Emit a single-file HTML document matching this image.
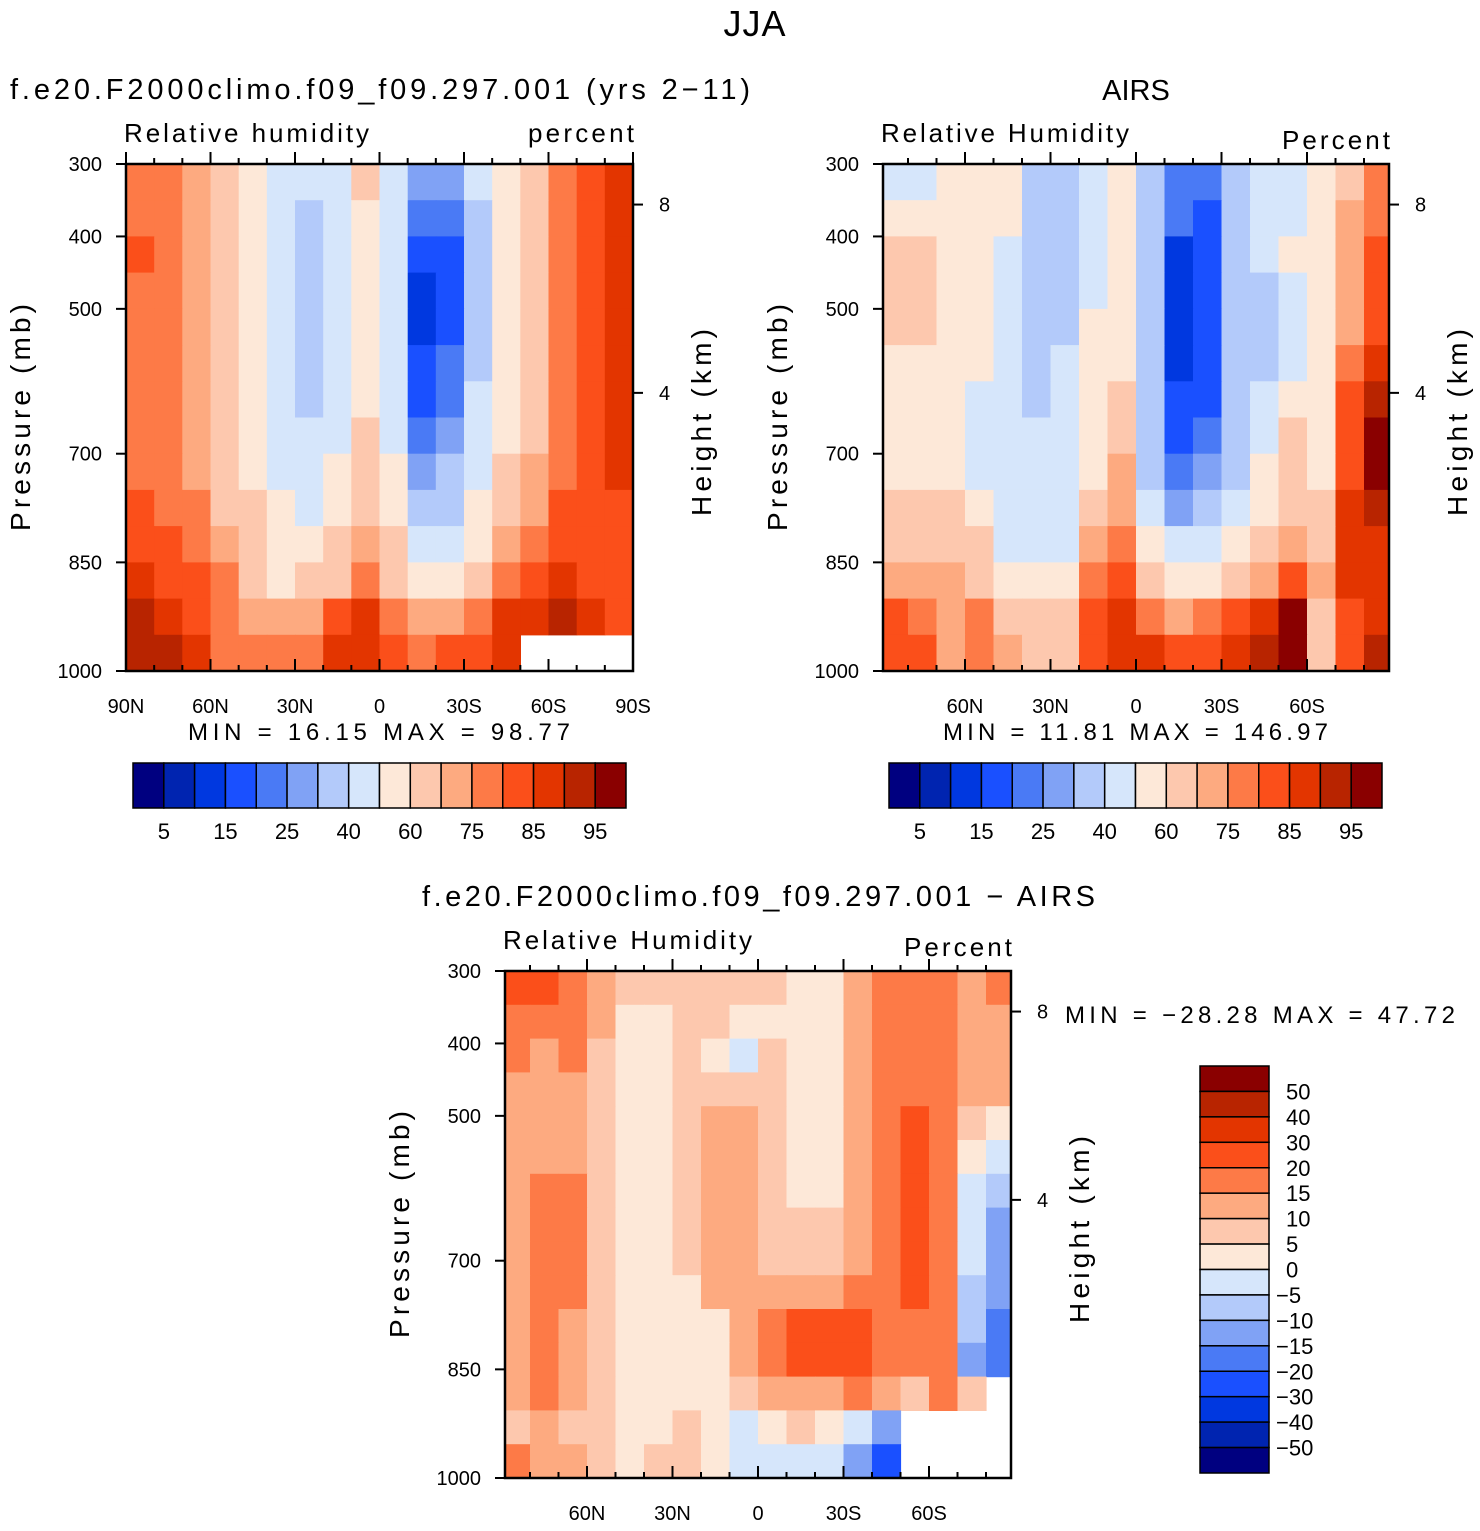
<!DOCTYPE html>
<html><head><meta charset="utf-8">
<style>
body{margin:0;background:#fff;}
svg text{font-family:"Liberation Sans",sans-serif;fill:#000;}
</style></head>
<body>
<svg id="fig" xmlns="http://www.w3.org/2000/svg" width="1480" height="1526" viewBox="0 0 1480 1526">
<text x="755" y="36" font-size="36" text-anchor="middle" letter-spacing="1">JJA</text>
<text x="10" y="99" font-size="29" textLength="740" lengthAdjust="spacing" xml:space="preserve">f.e20.F2000climo.f09_f09.297.001 (yrs 2−11)</text>
<text x="1136" y="100" font-size="29" text-anchor="middle">AIRS</text>
<text x="422" y="906" font-size="29" textLength="673" lengthAdjust="spacing" xml:space="preserve">f.e20.F2000climo.f09_f09.297.001 − AIRS</text>
<g id="panels"></g>
</svg>
<script>
// ---- data: rows top (300mb) to bottom (1000mb); columns 85N..85S (10 deg bins) ----
const latCenters=[85,75,65,55,45,35,25,15,5,-5,-15,-25,-35,-45,-55,-65,-75,-85];
const levelsRH=[5,10,15,20,25,30,40,50,60,70,75,80,85,90,95];
const levelsDiff=[-50,-40,-30,-20,-15,-10,-5,0,5,10,15,20,30,40,50];
const colors=["#000080","#0024b0","#0038e0","#1a50ff","#4a7af5","#80a2f5","#b3cafa","#d6e6fb","#fde8d8","#fdc8ae","#fdaa80","#fd7a47","#fb4f1a","#e33500","#b82400","#8a0000"];
const tickLabelsRH=["5","15","25","40","60","75","85","95"];
const tickLabelsDiff=["50","40","30","20","15","10","5","0","−5","−10","−15","−20","−30","−40","−50"];
const N=null;
const modelRH=[
[77,77,72,65,55,45,42,45,62,45,25,28,40,55,65,75,82,87],
[77,77,72,65,55,42,38,45,58,42,20,22,38,55,65,75,82,87],
[82,77,72,65,55,42,35,45,55,40,15,18,35,52,65,75,82,87],
[77,77,72,65,55,42,35,45,55,40,12,18,35,52,65,76,82,87],
[77,77,72,65,55,45,35,45,55,42,13,18,35,52,65,76,82,87],
[77,77,72,65,55,45,35,45,55,42,15,20,38,55,65,77,82,87],
[77,77,72,65,55,45,38,45,58,45,18,22,40,55,68,77,82,87],
[77,75,72,65,55,45,40,48,62,45,22,28,42,58,68,77,83,87],
[78,77,72,65,58,48,45,50,65,50,28,32,45,60,70,77,83,86],
[80,78,75,68,60,50,48,55,68,55,35,38,50,65,72,80,83,84],
[83,80,77,70,62,52,52,60,72,60,42,45,55,70,77,82,82,82],
[86,84,80,75,68,58,60,68,77,68,55,58,68,78,84,88,84,82],
[90,87,84,78,74,70,70,80,86,78,72,74,78,85,88,90,86,83],
[93,90,86,78,76,75,76,86,88,83,78,80,84,86,N,N,N,N]
];
const airsRH=[
[45,45,55,55,55,35,35,45,55,35,22,22,35,45,45,55,62,77],
[55,55,55,55,55,35,35,45,55,35,22,18,35,45,45,55,72,77],
[62,62,58,55,45,35,35,45,55,35,13,18,35,45,55,55,72,82],
[62,62,55,55,42,35,35,45,55,35,13,18,35,38,45,55,72,82],
[62,62,55,55,42,35,35,55,55,35,13,17,35,38,45,55,72,83],
[58,55,55,55,42,35,45,55,55,35,13,17,35,38,45,55,77,87],
[55,55,55,45,45,35,45,55,62,35,17,17,35,45,55,55,82,92],
[55,55,55,45,45,45,45,55,62,35,18,22,35,45,62,55,82,96],
[55,55,55,45,45,45,45,55,72,35,22,28,38,55,62,55,82,96],
[62,62,62,55,45,45,45,62,72,45,28,35,45,55,65,62,87,92],
[65,65,65,62,48,45,45,72,77,55,45,45,55,62,72,65,87,88],
[72,72,72,65,55,55,55,77,82,65,55,55,62,72,82,72,86,88],
[82,77,72,77,65,65,62,82,87,77,72,77,82,88,96,65,82,87],
[82,82,72,77,72,65,65,82,88,87,82,82,87,92,97,62,82,90]
];
const diffRH=[
[22,22,17,12,8,8,8,7,7,7,3,3,12,17,17,17,12,17],
[17,17,17,12,3,3,7,7,3,3,3,3,12,17,17,17,12,12],
[17,12,17,8,3,3,7,3,-2,7,3,3,12,17,17,17,12,12],
[12,12,12,8,3,3,7,7,7,7,3,3,12,17,17,17,12,12],
[12,12,12,8,3,3,7,12,12,7,3,3,12,17,22,17,7,3],
[12,12,12,8,3,3,7,12,12,7,3,3,12,17,22,17,3,-3],
[12,17,15,8,3,3,7,12,12,7,3,3,12,17,22,17,-3,-8],
[13,17,15,8,3,3,7,12,12,7,7,7,12,17,22,17,-3,-12],
[13,17,15,8,3,3,7,12,12,7,7,7,12,17,22,17,-3,-12],
[13,17,15,8,3,3,3,12,12,12,12,12,17,17,22,17,-8,-15],
[12,17,12,8,3,3,3,3,12,15,22,22,22,17,17,17,-8,-18],
[12,17,12,8,3,3,3,3,12,15,22,22,22,17,17,17,-12,-20],
[12,17,12,8,3,3,3,3,7,12,12,12,15,12,5,17,7,N],
[8,12,8,6,2,3,7,2,-3,3,7,2,-3,-12,N,N,N,N],
[17,12,12,6,3,7,7,2,-3,-3,-3,-3,-12,-22,N,N,N,N]
];
const pressTicks=[300,400,500,700,850,1000];
const heightTicks=[{km:8,p:356},{km:4,p:616}];

const NS="http://www.w3.org/2000/svg";
const root=document.getElementById('panels');
function el(tag,attrs,parent){const e=document.createElementNS(NS,tag);for(const k in attrs)e.setAttribute(k,attrs[k]);(parent||root).appendChild(e);return e;}
function txt(s,attrs,parent){const t=el('text',attrs,parent);t.textContent=s;return t;}
function colorFor(v,levels){let i=0;while(i<levels.length&&v>=levels[i])i++;return colors[i];}

function drawPanel(cfg){
  const g=el('g',{});
  
  
  const x0=cfg.x,y0=cfg.y,w=cfg.w,h=cfg.h;
  const xOf=lat=>cfg.xc - lat/30*cfg.pxPer30;
  const yOf=p=>y0+(p-300)/700*h;
  const data=cfg.data,nr=data.length;
  const clip=el('clipPath',{id:cfg.name+'-clip'},g);
  el('rect',{x:x0,y:y0,width:w,height:h},clip);
  const cg=el('g',{'clip-path':'url(#'+cfg.name+'-clip)'},g);
  for(let r=0;r<nr;r++){
    const pa=300+r*700/nr,pb=300+(r+1)*700/nr;
    for(let c=0;c<latCenters.length;c++){
      const v=data[r][c];
      if(v===null)continue;
      const xa=xOf(latCenters[c]+5),xb=xOf(latCenters[c]-5);
      const rc=el('rect',{x:xa.toFixed(1),y:yOf(pa).toFixed(1),width:(xb-xa+0.6).toFixed(1),height:(yOf(pb)-yOf(pa)+0.6).toFixed(1),fill:colorFor(v,cfg.levels)},cg);
      
      
    }
  }
  el('rect',{x:x0,y:y0,width:w,height:h,fill:'none',stroke:'#000','stroke-width':2.5},g);
  pressTicks.forEach(p=>{const y=yOf(p);el('line',{x1:x0-10,x2:x0,y1:y,y2:y,stroke:'#000','stroke-width':2},g);
    txt(String(p),{x:x0-24,y:y+7,'font-size':20,'text-anchor':'end'},g);});
  heightTicks.forEach(t=>{const y=yOf(t.p);el('line',{x1:x0+w,x2:x0+w+10,y1:y,y2:y,stroke:'#000','stroke-width':2},g);
    txt(String(t.km),{x:x0+w+26,y:y+7,'font-size':20},g);});
  for(let lat=-90;lat<=90;lat+=10){const x=xOf(lat);if(x<x0-1||x>x0+w+1)continue;
    const major=lat%30===0;const L=major?12:6;
    el('line',{x1:x,x2:x,y1:y0,y2:y0-L,stroke:'#000','stroke-width':2},g);
    el('line',{x1:x,x2:x,y1:y0+h,y2:y0+h-L,stroke:'#000','stroke-width':2},g);}
  cfg.latLabels.forEach(l=>{txt(l.t,{x:xOf(l.v),y:y0+h+42,'font-size':20,'text-anchor':'middle'},g);});
  const yl=txt('Pressure (mb)',{x:0,y:0,'font-size':28,'text-anchor':'middle',textLength:227,lengthAdjust:'spacing',transform:`translate(${x0-96},${y0+h/2}) rotate(-90)`},g);
  
  const hl=txt('Height (km)',{x:0,y:0,'font-size':28,'text-anchor':'middle',textLength:187,lengthAdjust:'spacing',transform:`translate(${x0+w+78},${y0+h/2+5}) rotate(-90)`},g);
  
  txt(cfg.left,{x:x0-2,y:y0-22,'font-size':26,textLength:cfg.leftLen,lengthAdjust:'spacing'},g);
  txt(cfg.right,{x:x0+w+1-cfg.rightLen,y:y0-cfg.rightDy,'font-size':26,textLength:cfg.rightLen,lengthAdjust:'spacing'},g);
  const mm=txt(cfg.minmax,{x:cfg.mmx,y:cfg.mmy,'font-size':24,textLength:cfg.mmLen,lengthAdjust:'spacing','xml:space':'preserve'},g);
  
}
const full=[{t:'90N',v:90},{t:'60N',v:60},{t:'30N',v:30},{t:'0',v:0},{t:'30S',v:-30},{t:'60S',v:-60},{t:'90S',v:-90}];
const part=full.slice(1,6);
drawPanel({name:'model-panel',data:modelRH,levels:levelsRH,x:126,y:164,w:507,h:507,xc:379.5,pxPer30:84.5,latLabels:full,left:'Relative humidity',leftLen:245,right:'percent',rightLen:106,rightDy:22,minmax:'MIN  =    16.15    MAX  =    98.77',mmx:188,mmy:740,mmLen:382});
drawPanel({name:'airs-panel',data:airsRH,levels:levelsRH,x:883,y:164,w:506,h:507,xc:1136,pxPer30:85.5,latLabels:part,left:'Relative Humidity',leftLen:248,right:'Percent',rightLen:108,rightDy:15,minmax:'MIN  =    11.81    MAX  =  146.97',mmx:943,mmy:740,mmLen:385});
drawPanel({name:'diff-panel',data:diffRH,levels:levelsDiff,x:505,y:971,w:506,h:507,xc:758,pxPer30:85.5,latLabels:part,left:'Relative Humidity',leftLen:249,right:'Percent',rightLen:108,rightDy:15,minmax:'MIN  =  −28.28    MAX  =    47.72',mmx:1065,mmy:1023,mmLen:390});

function hBar(name,x,y,w,h){const g=el('g',{});
  const bw=w/colors.length;
  colors.forEach((c,i)=>{const r=el('rect',{x:x+i*bw,y:y,width:bw,height:h,fill:c,stroke:'#000','stroke-width':1.5},g);
    });
  tickLabelsRH.forEach((t,i)=>{txt(t,{x:x+(2*i+1)*bw,y:y+h+31,'font-size':22,'text-anchor':'middle'},g);});}
hBar('model-colorbar',133,763,493,45);
hBar('airs-colorbar',889,763,493,45);
(function(){const g=el('g',{});
  const x=1200,y=1066,w=69,h=407,bh=h/colors.length;
  colors.slice().reverse().forEach((c,i)=>{const r=el('rect',{x:x,y:y+i*bh,width:w,height:bh,fill:c,stroke:'#000','stroke-width':1.5},g);
    });
  tickLabelsDiff.forEach((t,i)=>{txt(t,{x:x+(t[0]==='−'?76:86),y:y+(i+1)*bh+8,'font-size':22},g);});})();
</script>
</body></html>
